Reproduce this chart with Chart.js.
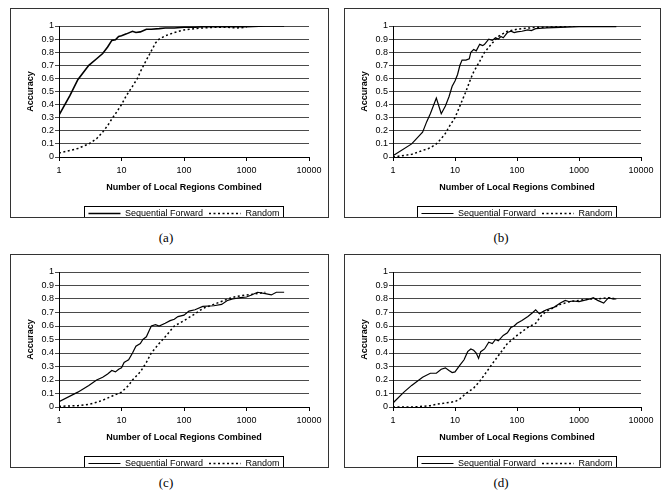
<!DOCTYPE html>
<html><head><meta charset="utf-8">
<script src="https://cdn.jsdelivr.net/npm/chart.js@4.4.0/dist/chart.umd.min.js"></script>
<style>
body{margin:0;background:#fff;width:662px;height:497px;position:relative;overflow:hidden;font-family:"Liberation Sans",Arial,sans-serif}
.frame{position:absolute;border:1px solid #333;box-sizing:border-box}
.frame canvas{display:block}
.cap{position:absolute;font-family:"Liberation Serif","Times New Roman",serif;font-size:13px;width:60px;text-align:center;color:#000}
</style></head><body>
<div class="frame" style="left:10px;top:8px;width:319px;height:210px"><canvas id="ca" width="317" height="208"></canvas></div>
<div class="frame" style="left:344px;top:8px;width:317px;height:210px"><canvas id="cb" width="315" height="208"></canvas></div>
<div class="frame" style="left:10px;top:254px;width:319px;height:214px"><canvas id="cc" width="317" height="212"></canvas></div>
<div class="frame" style="left:344px;top:254px;width:317px;height:214px"><canvas id="cd" width="315" height="212"></canvas></div>
<div class="cap" style="left:136px;top:230px">(a)</div>
<div class="cap" style="left:471px;top:230px">(b)</div>
<div class="cap" style="left:136px;top:475px">(c)</div>
<div class="cap" style="left:471px;top:475px">(d)</div>
<script>
const seriesNames = ['Sequential Forward', 'Random'];
const xTicks = [1, 10, 100, 1000, 10000];
const yMin = 0, yMax = 1, yStep = 0.1;
const xTitle = 'Number of Local Regions Combined';
const yTitle = 'Accuracy';

// Panel (a)
const aSeqX = [1,1.5,2,2.5,3,4,5,6,7,8,9,10,12,15,17,20,25,30,40,50,70,100,150,200,300,500,1000,2000,4000];
const aSeqY = [0.32,0.47,0.59,0.65,0.70,0.75,0.79,0.84,0.89,0.895,0.92,0.925,0.94,0.96,0.95,0.955,0.975,0.975,0.98,0.985,0.985,0.99,0.99,0.995,0.995,0.995,0.995,1,1];
const aRandX = [1,1.5,2,3,4,5,6,7,8,10,12,15,18,20,25,30,35,40,50,70,100,150,200,300,500,700,1000];
const aRandY = [0.03,0.05,0.065,0.10,0.14,0.19,0.24,0.29,0.33,0.40,0.47,0.54,0.60,0.65,0.74,0.81,0.87,0.90,0.925,0.95,0.97,0.98,0.985,0.99,0.99,0.985,0.99];

// Panel (b)
const bSeqX = [1,2,3,3.5,4,5,6,7,8,9,10,11,12,13,15,17,18,20,22,25,28,30,35,40,45,50,55,60,70,80,90,100,120,150,170,200,300,500,1000,2000,4000];
const bSeqY = [0.01,0.10,0.19,0.27,0.33,0.45,0.33,0.39,0.46,0.54,0.58,0.63,0.70,0.74,0.74,0.75,0.80,0.82,0.81,0.86,0.85,0.86,0.90,0.89,0.91,0.90,0.92,0.91,0.95,0.96,0.95,0.955,0.96,0.97,0.965,0.98,0.985,0.99,0.995,0.995,0.995];
const bRandX = [1,2,3,4,5,6,7,8,10,12,15,18,20,25,30,40,50,70,100,200,300,500,1000];
const bRandY = [0.0,0.02,0.05,0.07,0.10,0.14,0.18,0.23,0.30,0.39,0.50,0.60,0.65,0.73,0.80,0.87,0.92,0.96,0.975,0.99,0.99,0.995,1];

// Panel (c)
const cSeqX = [1,2,3,4,5,6,7,8,9,10,11,12,13,15,17,20,22,25,28,30,35,40,50,60,70,80,100,120,150,200,300,400,500,600,800,1000,1200,1500,2000,2500,3000,4000];
const cSeqY = [0.04,0.11,0.16,0.20,0.22,0.245,0.27,0.26,0.28,0.29,0.33,0.34,0.35,0.40,0.45,0.47,0.50,0.52,0.57,0.60,0.61,0.60,0.62,0.64,0.65,0.67,0.68,0.71,0.72,0.745,0.75,0.76,0.79,0.80,0.81,0.815,0.83,0.85,0.84,0.83,0.85,0.85];
const cRandX = [1,2,3,4,5,7,10,13,15,20,25,30,40,50,70,100,150,200,300,500,700,1000,1500,2000];
const cRandY = [0.005,0.01,0.02,0.035,0.05,0.08,0.11,0.16,0.20,0.26,0.33,0.40,0.47,0.52,0.60,0.64,0.69,0.73,0.76,0.80,0.82,0.83,0.84,0.85];

// Panel (d)
const dSeqX = [1,1.5,2,3,4,5,6,7,8,9,10,12,14,16,18,20,22,24,26,30,35,40,45,50,60,70,80,90,100,120,150,180,200,230,270,300,400,500,600,700,800,1000,1200,1500,1700,2000,2500,3000,3500,4000];
const dSeqY = [0.03,0.11,0.16,0.22,0.25,0.25,0.28,0.29,0.27,0.255,0.26,0.31,0.35,0.41,0.43,0.42,0.40,0.36,0.41,0.43,0.48,0.47,0.50,0.49,0.53,0.55,0.59,0.60,0.62,0.64,0.67,0.70,0.72,0.69,0.71,0.72,0.74,0.77,0.79,0.78,0.785,0.78,0.79,0.80,0.81,0.79,0.77,0.81,0.80,0.80];
const dRandX = [1,2,3,4,5,7,10,12,15,20,25,30,40,50,70,100,150,200,250,300,500,700,1000,1500,2000,3000,4000];
const dRandY = [0.0,0.0,0.005,0.01,0.02,0.03,0.04,0.06,0.10,0.14,0.19,0.24,0.32,0.38,0.47,0.53,0.59,0.62,0.68,0.71,0.76,0.78,0.79,0.80,0.80,0.81,0.80];

const F = '"Liberation Sans", Arial, sans-serif';

const legendFrame = {
  id: 'legendFrame',
  afterLayout(chart) {
    const lg = chart.legend, ca = chart.chartArea;
    lg.left = ca.left; lg.right = ca.right; lg.width = ca.right - ca.left;
  },
  afterDraw(chart) {
    const hb = chart.legend.legendHitBoxes;
    if (!hb || !hb.length) return;
    let l = Infinity, r = -Infinity, t = Infinity, b = -Infinity;
    hb.forEach(h => { l = Math.min(l, h.left); r = Math.max(r, h.left + h.width); t = Math.min(t, h.top); b = Math.max(b, h.top + h.height); });
    const ctx = chart.ctx;
    ctx.save(); ctx.strokeStyle = '#000'; ctx.lineWidth = 1; ctx.setLineDash([]);
    ctx.strokeRect(Math.round(l - 4) + 0.5, Math.round(t - 3) + 0.5, Math.round(r - l + 8), Math.round(b - t + 5));
    ctx.restore();
  }
};

function pts(xs, ys) { return xs.map((x, i) => ({ x: x, y: ys[i] })); }

function legendLabels(chart) {
  const items = Chart.defaults.plugins.legend.labels.generateLabels(chart);
  items.forEach(it => {
    const ds = chart.data.datasets[it.datasetIndex];
    it.lineDash = ds.borderDash || [];
    it.lineWidth = ds.borderWidth;
    it.strokeStyle = ds.borderColor;
  });
  return items;
}

function makeChart(id, sx, sy, rx, ry, sw) {
  new Chart(document.getElementById(id), {
    type: 'line',
    data: {
      datasets: [
        { label: seriesNames[0], data: pts(sx, sy), borderColor: '#000', backgroundColor: '#000', borderWidth: sw, pointRadius: 0, tension: 0, fill: false },
        { label: seriesNames[1], data: pts(rx, ry), borderColor: '#000', backgroundColor: '#000', borderWidth: 1.5, borderDash: [2, 2.5], pointRadius: 0, tension: 0, fill: false }
      ]
    },
    options: {
      responsive: false, animation: false, devicePixelRatio: 1,
      layout: { padding: { left: 14, right: 19, top: 17, bottom: -11 } },
      plugins: {
        legend: { position: 'bottom', labels: { usePointStyle: true, pointStyle: 'line', pointStyleWidth: 32, boxHeight: 9, font: { family: F, size: 9 }, color: '#000', padding: 6, generateLabels: legendLabels } },
        tooltip: { enabled: false }
      },
      scales: {
        x: {
          type: 'logarithmic', min: xTicks[0], max: xTicks[xTicks.length - 1],
          afterBuildTicks: s => { s.ticks = xTicks.map(v => ({ value: v })); },
          afterFit: s => { s.height = 46; },
          ticks: { autoSkip: false, maxRotation: 0, font: { family: F, size: 9 }, color: '#000', padding: 4, callback: v => String(v) },
          grid: { drawOnChartArea: false, drawTicks: true, tickLength: 4, color: '#000' },
          border: { color: '#000' },
          title: { display: true, text: xTitle, font: { family: F, size: 9, weight: 'bold' }, color: '#000', padding: { top: 4, bottom: 10 } }
        },
        y: {
          min: yMin, max: yMax,
          afterFit: s => { s.width = 34; },
          ticks: { stepSize: yStep, autoSkip: false, font: { family: F, size: 9 }, color: '#000', padding: 1, callback: v => String(+Number(v).toFixed(1)) },
          grid: { color: '#4a4a4a', tickLength: 4 },
          border: { color: '#000' },
          title: { display: true, text: yTitle, font: { family: F, size: 9, weight: 'bold' }, color: '#000', padding: { top: 0, bottom: 4 } }
        }
      }
    },
    plugins: [legendFrame]
  });
}

makeChart('ca', aSeqX, aSeqY, aRandX, aRandY, 1.6);
makeChart('cb', bSeqX, bSeqY, bRandX, bRandY, 1.2);
makeChart('cc', cSeqX, cSeqY, cRandX, cRandY, 1.2);
makeChart('cd', dSeqX, dSeqY, dRandX, dRandY, 1.2);
</script>
</body></html>
